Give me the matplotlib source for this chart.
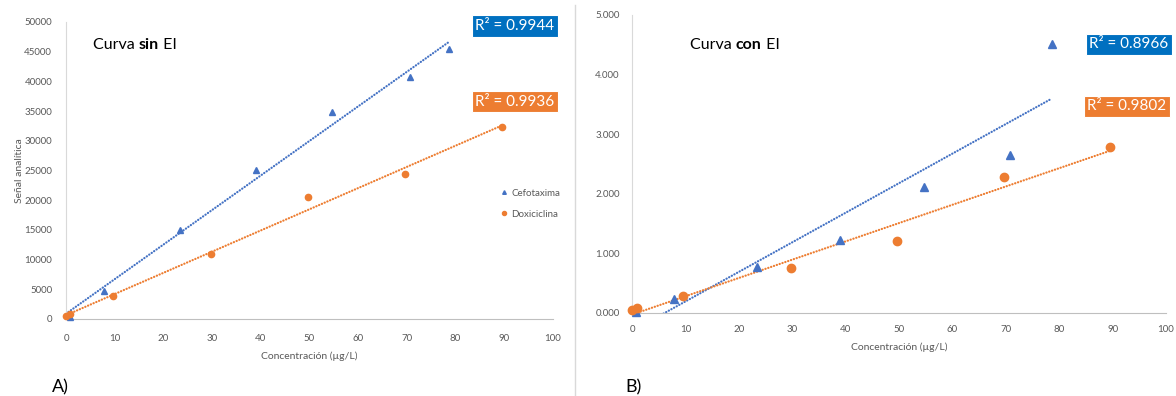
import numpy as np
import matplotlib
matplotlib.use("Agg")
import matplotlib.pyplot as plt
from matplotlib.lines import Line2D

plt.rcParams["font.family"] = ["Lato", "DejaVu Sans"]

# Calibration data: concentration (µg/L) vs analytical signal
conc_cef = [0.8, 7.8, 23.5, 39.0, 54.7, 70.7, 78.6]
conc_dox = [0.0, 0.9, 9.6, 29.8, 49.6, 69.6, 89.5]

# Curve without internal standard
sin_cef = [400, 4700, 15000, 25100, 34900, 40700, 45500]
sin_dox = [500, 800, 3800, 10900, 20600, 24400, 32300]

# Curve with internal standard
con_cef = [0.01, 0.24, 0.78, 1.22, 2.12, 2.65, 4.51]
con_dox = [0.05, 0.09, 0.285, 0.755, 1.21, 2.28, 2.79]

r2_sin = ["0.9944", "0.9936"]
r2_con = ["0.8966", "0.9802"]

series_names = ["Cefotaxima", "Doxiciclina"]
x_ticks = list(range(0, 101, 10))
y_ticks_sin = list(range(0, 50001, 5000))
y_ticks_con = [0, 1, 2, 3, 4, 5]

BLUE = "#4472C4"
ORANGE = "#ED7D31"
BOX_BLUE = "#0070C0"
BOX_ORANGE = "#ED7D31"
TXT = "#595959"

W, H = 1176, 396
fig = plt.figure(figsize=(W / 100, H / 100), dpi=100)


def fx(px):
    return px / W


def fy(py):
    return 1 - py / H


def style_axes(ax, yticks, yfmt, ypad, xpad):
    for s in ("top", "right"):
        ax.spines[s].set_visible(False)
    ax.spines["left"].set_color("#D9D9D9")
    ax.spines["bottom"].set_color("#BFBFBF")
    ax.set_xlim(0, 100)
    ax.set_xticks(x_ticks)
    ax.set_yticks(yticks)
    ax.set_yticklabels([yfmt(v) for v in yticks])
    ax.tick_params(axis="both", length=0, labelsize=7, labelcolor=TXT)
    ax.tick_params(axis="y", pad=ypad)
    ax.tick_params(axis="x", pad=xpad)
    ax.set_facecolor("none")


def draw_series(ax, x, y, color, marker, ms, label):
    x = np.asarray(x, float)
    y = np.asarray(y, float)
    k, b = np.polyfit(x, y, 1)
    xt = np.linspace(0, x.max(), 200)
    # dotted linear trendline
    ax.plot(xt, k * xt + b, color=color, lw=1.6, linestyle=(0, (0.1, 1.25)),
            dash_capstyle="round", zorder=2)
    ax.plot(x, y, linestyle="none", marker=marker, color=color, ms=ms,
            clip_on=False, zorder=3, label=label)


def add_title(x_px, y_px, word):
    t1 = fig.text(fx(x_px), fy(y_px), "Curva ", fontsize=11.5,
                  ha="left", va="baseline", color="black")
    t2 = fig.text(0, 0, word, fontsize=11.5, fontweight="bold",
                  ha="left", va="baseline", color="black")
    t3 = fig.text(0, 0, " EI", fontsize=11.5,
                  ha="left", va="baseline", color="black")
    fig.canvas.draw()
    r = fig.canvas.get_renderer()
    bb1 = t1.get_window_extent(r)
    t2.set_position((bb1.x1 / W, fy(y_px)))
    fig.canvas.draw()
    bb2 = t2.get_window_extent(r)
    t3.set_position((bb2.x1 / W, fy(y_px)))


def r2_box(cx, cy, value, color):
    fig.text(fx(cx), fy(cy), "R² = " + value, fontsize=11, color="white",
             ha="center", va="center",
             bbox=dict(boxstyle="square,pad=0.25", facecolor=color,
                       edgecolor="white", linewidth=0.8))


# Panel A: without internal standard
axA = fig.add_axes([fx(66), fy(319), fx(553 - 66), (319 - 22) / H])
draw_series(axA, conc_cef, sin_cef, BLUE, "^", 4, series_names[0])
draw_series(axA, conc_dox, sin_dox, ORANGE, "o", 4.5, series_names[1])
axA.set_ylim(0, 50000)
style_axes(axA, y_ticks_sin, lambda v: f"{v:d}", 10, 11)
axA.set_xlabel("Concentración (µg/L)", fontsize=7.5, color=TXT, labelpad=6)
axA.set_ylabel("Señal analítica", fontsize=7.5, color=TXT, labelpad=0)
axA.legend(loc="upper left", bbox_to_anchor=(fx(496), fy(184)),
           bbox_transform=fig.transFigure, frameon=False, fontsize=7,
           labelcolor=TXT, handlelength=0.6, handletextpad=0.5,
           markerscale=0.65, labelspacing=1.2, borderpad=0)

# Panel B: with internal standard
axB = fig.add_axes([fx(632), fy(313), fx(1166 - 632), (313 - 15) / H])
draw_series(axB, conc_cef, con_cef, BLUE, "^", 5.5, series_names[0])
draw_series(axB, conc_dox, con_dox, ORANGE, "o", 6, series_names[1])
axB.set_ylim(0, 5)
style_axes(axB, y_ticks_con, lambda v: f"{v:.3f}", 9, 9)
axB.set_xlabel("Concentración (µg/L)", fontsize=7.5, color=TXT, labelpad=6)

add_title(93, 49, "sin")
add_title(690, 49, "con")

r2_box(515, 26, r2_sin[0], BOX_BLUE)
r2_box(515, 101.5, r2_sin[1], BOX_ORANGE)
r2_box(1129, 44.5, r2_con[0], BOX_BLUE)
r2_box(1127, 106.5, r2_con[1], BOX_ORANGE)

fig.text(fx(52), fy(392), "A)", fontsize=13, ha="left", va="baseline")
fig.text(fx(625), fy(392), "B)", fontsize=13, ha="left", va="baseline")

# Divider between the two panels
fig.add_artist(Line2D([fx(575), fx(575)], [fy(396), fy(5)],
                      transform=fig.transFigure, color="#D9D9D9", lw=1))

fig.savefig("out.png", dpi=100)
